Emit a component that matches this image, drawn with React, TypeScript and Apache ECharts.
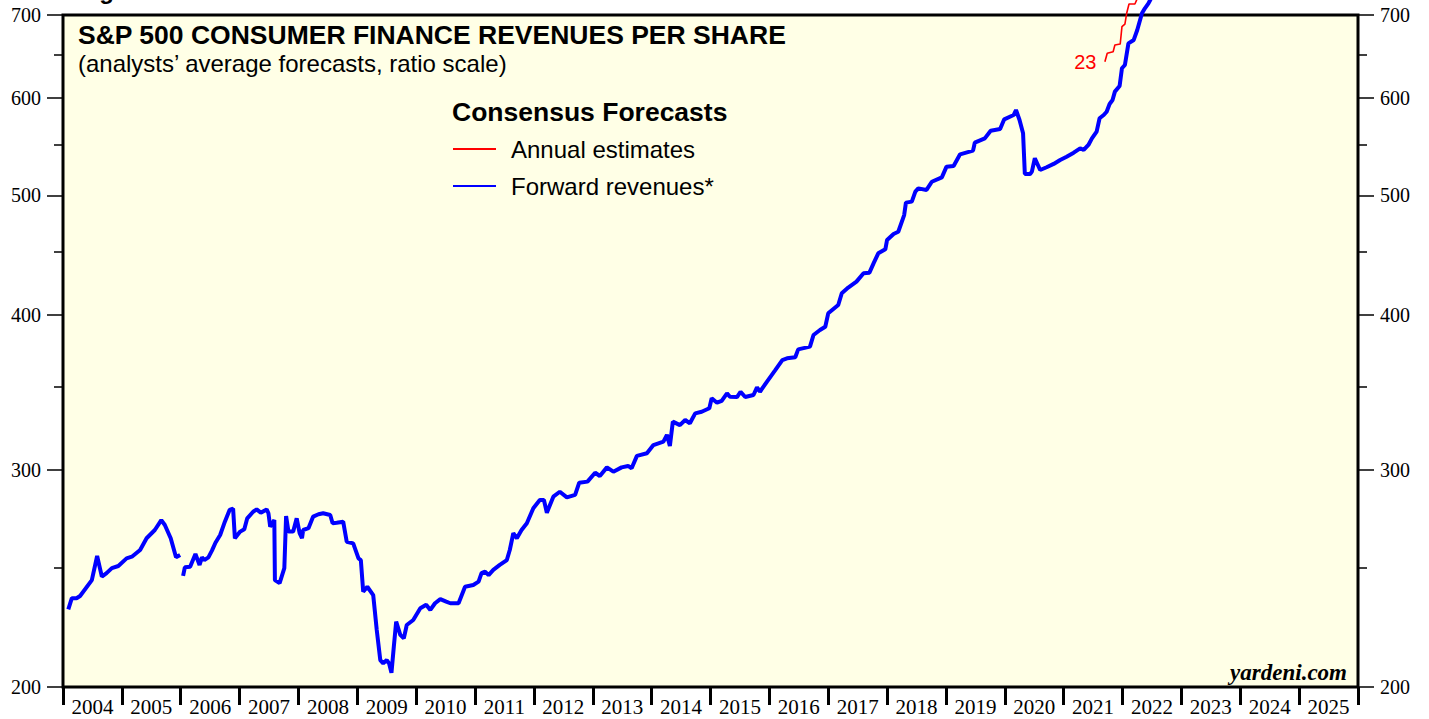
import React, { useEffect, useRef } from "react";
import * as echarts from "echarts";

// ---- data ----
const yearLabels = [2004, 2005, 2006, 2007, 2008, 2009, 2010, 2011, 2012, 2013, 2014, 2015, 2016, 2017, 2018, 2019, 2020, 2021, 2022, 2023, 2024, 2025];
const yMajorTicks = [200, 300, 400, 500, 600, 700];
const yMinorTicks = [250, 350, 450, 550, 650];

const blueDates = [
  2004.09, 2004.15, 2004.23, 2004.29, 2004.49, 2004.58, 2004.66, 2004.74, 2004.83, 2004.94,
  2005.08, 2005.17, 2005.31, 2005.42, 2005.56, 2005.67, 2005.73, 2005.83, 2005.92, 2005.99,
  2006.02,
  2006.04, 2006.07, 2006.16, 2006.25, 2006.32, 2006.36, 2006.40, 2006.47, 2006.53, 2006.59,
  2006.67, 2006.75, 2006.83, 2006.89, 2006.92, 2007.01, 2007.08, 2007.13, 2007.23, 2007.29,
  2007.36, 2007.46, 2007.49, 2007.52, 2007.59, 2007.60, 2007.68, 2007.76, 2007.79, 2007.83,
  2007.91, 2007.97, 2008.02, 2008.06, 2008.08, 2008.17, 2008.25, 2008.34, 2008.42, 2008.54,
  2008.58, 2008.65, 2008.76, 2008.82, 2008.93, 2009.02, 2009.06, 2009.10, 2009.17, 2009.27,
  2009.33, 2009.39, 2009.44, 2009.50, 2009.54, 2009.58, 2009.62, 2009.66, 2009.73, 2009.79,
  2009.84, 2009.95, 2010.07, 2010.17, 2010.24, 2010.32, 2010.41, 2010.51, 2010.58, 2010.72,
  2010.83, 2010.97, 2011.06, 2011.11, 2011.17, 2011.23, 2011.31, 2011.42, 2011.54, 2011.59,
  2011.65, 2011.71, 2011.79, 2011.88, 2011.99, 2012.10, 2012.17, 2012.22, 2012.33, 2012.44,
  2012.56, 2012.70, 2012.77, 2012.91, 2013.04, 2013.12, 2013.24, 2013.35, 2013.49, 2013.60,
  2013.66, 2013.75, 2013.92, 2014.03, 2014.20, 2014.26, 2014.31, 2014.36, 2014.48, 2014.57,
  2014.65, 2014.74, 2014.85, 2014.98, 2015.02, 2015.11, 2015.19, 2015.28, 2015.33, 2015.45,
  2015.51, 2015.59, 2015.73, 2015.79, 2015.84, 2015.96, 2016.10, 2016.22, 2016.30, 2016.44,
  2016.49, 2016.69, 2016.75, 2016.86, 2016.95, 2017.00, 2017.17, 2017.23, 2017.34, 2017.48,
  2017.60, 2017.70, 2017.77, 2017.85, 2017.97, 2018.00, 2018.11, 2018.19, 2018.29, 2018.32,
  2018.42, 2018.48, 2018.53, 2018.67, 2018.76, 2018.93, 2019.01, 2019.13, 2019.24, 2019.46,
  2019.49, 2019.66, 2019.76, 2019.92, 2019.99, 2020.15, 2020.19, 2020.25, 2020.31, 2020.34,
  2020.43, 2020.46, 2020.51, 2020.60, 2020.71, 2020.83, 2020.94, 2021.05, 2021.17, 2021.28,
  2021.34, 2021.42, 2021.48, 2021.56, 2021.61, 2021.68, 2021.73, 2021.78, 2021.83, 2021.87,
  2021.95, 2021.99, 2022.04, 2022.10, 2022.19, 2022.25, 2022.33, 2022.38, 2022.44, 2022.47,
  2022.52,
];
const blueValues = [
  231.1, 236.0, 236.0, 237.0, 244.1, 255.3, 245.7, 247.3, 249.6, 250.6,
  254.2, 255.0, 258.2, 263.9, 268.0, 273.0, 270.5, 263.9, 254.7, 255.8,
  null,
  246.0, 250.0, 250.3, 256.3, 251.1, 254.7, 253.4, 254.7, 257.9, 261.7,
  265.5, 272.2, 278.2, 278.9, 263.9, 267.2, 268.4, 273.9, 277.3, 278.5,
  276.8, 278.5, 276.5, 269.6, 273.0, 244.1, 242.7, 249.6, 275.1, 267.2,
  267.2, 273.9, 266.4, 263.9, 268.0, 268.9, 274.8, 276.0, 276.5, 275.6,
  271.4, 271.7, 272.2, 262.2, 261.4, 254.2, 253.4, 238.9, 241.1, 237.4,
  222.4, 210.3, 209.0, 210.3, 209.0, 205.4, 215.6, 225.9, 220.4, 219.0,
  224.5, 226.6, 231.6, 233.1, 230.9, 233.8, 235.6, 234.5, 233.8, 233.8,
  241.1, 241.9, 243.4, 247.3, 248.0, 246.4, 248.8, 251.1, 253.4, 258.2,
  266.4, 263.9, 268.0, 271.4, 279.1, 283.4, 283.4, 276.8, 285.2, 287.8,
  284.8, 286.1, 292.7, 293.3, 298.2, 296.4, 301.2, 298.8, 301.2, 302.0,
  300.7, 307.7, 309.2, 314.0, 316.0, 320.0, 313.4, 328.0, 325.9, 329.0,
  327.0, 333.1, 334.1, 336.3, 342.6, 339.8, 341.0, 345.8, 343.6, 343.4,
  346.8, 343.4, 344.7, 349.6, 346.8, 353.4, 361.1, 367.9, 369.1, 369.8,
  375.3, 377.2, 385.5, 389.1, 391.5, 401.4, 407.7, 416.7, 421.1, 425.8,
  432.5, 433.0, 440.6, 448.9, 452.3, 460.2, 465.4, 467.3, 482.1, 493.4,
  494.3, 503.6, 506.7, 505.2, 513.0, 517.2, 527.6, 528.3, 539.9, 543.6,
  551.7, 556.2, 564.2, 566.0, 576.3, 580.9, 586.4, 575.6, 561.5, 520.4,
  520.4, 522.7, 535.9, 524.3, 527.0, 530.3, 534.2, 537.5, 541.5, 546.0,
  544.3, 549.4, 556.2, 563.2, 577.4, 580.9, 584.5, 593.0, 597.4, 606.8,
  613.2, 633.8, 637.7, 664.0, 668.2, 680.7, 702.2, 708.8, 715.4, 719.9,
  726.6,
];

const redDates = [2021.70, 2021.74, 2021.84, 2021.87, 2021.96, 2021.99, 2022.04, 2022.07, 2022.11, 2022.21, 2022.24, 2022.27];
const redValues = [641.6, 651.8, 653.7, 661.9, 663.1, 684.9, 688.3, 702.2, 714.5, 714.5, 719.9, 726.6];
const redLabel = "23";

const lg = (v: number) => Math.log10(v);

const SANS = 'Arial, "Liberation Sans", Helvetica, sans-serif';
const SERIF = '"Times New Roman", "Liberation Serif", Times, serif';

export default function App() {
  const ref = useRef<HTMLDivElement>(null);

  useEffect(() => {
    if (!ref.current) return;
    const chart = echarts.init(ref.current, null, { renderer: "svg" });

    const blueData = blueDates.map((d, i) => [d, blueValues[i] == null ? "-" : lg(blueValues[i] as number)]);
    const redData = redDates.map((d, i) => [d, lg(redValues[i])]);

    const yMin = lg(yMajorTicks[0]);
    const yMax = lg(yMajorTicks[yMajorTicks.length - 1]);
    const majorVals = yMajorTicks.map(lg);
    const minorVals = yMinorTicks.map(lg);
    const fmtY = (v: number) => String(Math.round(Math.pow(10, v)));

    const yAxisBase = (position: "left" | "right", major: boolean) => ({
      type: "value",
      position,
      min: yMin,
      max: yMax,
      axisLine: { show: false },
      splitLine: { show: false },
      axisTick: {
        show: true,
        inside: false,
        length: major ? 16 : 9,
        customValues: major ? majorVals : minorVals,
        lineStyle: { color: "#000", width: 1.5 },
      },
      axisLabel: major
        ? {
            show: true,
            customValues: majorVals,
            formatter: fmtY,
            margin: 22,
            color: "#000",
            fontFamily: SERIF,
            fontSize: 20,
          }
        : { show: false },
    });

    const option: any = {
      animation: false,
      backgroundColor: "#ffffff",
      grid: {
        left: 63,
        right: 71,
        top: 15,
        bottom: 32,
        show: true,
        backgroundColor: "#FFFFE6",
        borderColor: "#000",
        borderWidth: 3,
      },
      xAxis: {
        type: "value",
        min: 2004,
        max: 2026,
        axisLine: { show: false },
        splitLine: { show: false },
        axisTick: {
          show: true,
          inside: false,
          length: 18,
          customValues: [...yearLabels, yearLabels[yearLabels.length - 1] + 1],
          lineStyle: { color: "#000", width: 3 },
        },
        axisLabel: {
          show: true,
          customValues: yearLabels.map((y) => y + 0.5),
          formatter: (v: number) => String(Math.floor(v)),
          margin: 9,
          color: "#000",
          fontFamily: SERIF,
          fontSize: 21,
        },
      },
      yAxis: [
        yAxisBase("left", true),
        yAxisBase("left", false),
        yAxisBase("right", true),
        yAxisBase("right", false),
      ],
      legend: {
        data: ["Annual estimates", "Forward revenues*"],
        orient: "vertical",
        left: 452,
        top: 137,
        padding: 0,
        itemWidth: 43,
        itemHeight: 14,
        itemGap: 13,
        selectedMode: false,
        itemStyle: { opacity: 0 },
        textStyle: {
          fontFamily: SANS,
          fontSize: 24,
          color: "#000",
          padding: [0, 0, 0, 10],
        },
      },
      graphic: [
        {
          type: "text",
          x: 78,
          y: -10,
          style: { text: "Figure", fontFamily: SANS, fontWeight: "bold", fontSize: 24, fill: "#000", verticalAlign: "middle" },
        },
        {
          type: "text",
          x: 78,
          y: 35,
          style: {
            text: "S&P 500 CONSUMER FINANCE REVENUES PER SHARE",
            fontFamily: SANS,
            fontWeight: "bold",
            fontSize: 26.5,
            fill: "#000",
            verticalAlign: "middle",
          },
        },
        {
          type: "text",
          x: 78,
          y: 63,
          style: {
            text: "(analysts\u2019 average forecasts, ratio scale)",
            fontFamily: SANS,
            fontSize: 24,
            fill: "#000",
            verticalAlign: "middle",
          },
        },
        {
          type: "text",
          x: 452,
          y: 112,
          style: {
            text: "Consensus Forecasts",
            fontFamily: SANS,
            fontWeight: "bold",
            fontSize: 26.5,
            fill: "#000",
            verticalAlign: "middle",
          },
        },
        {
          type: "text",
          x: 1347,
          y: 672,
          style: {
            text: "yardeni.com",
            fontFamily: SERIF,
            fontWeight: "bold",
            fontStyle: "italic",
            fontSize: 23,
            fill: "#000",
            align: "right",
            verticalAlign: "middle",
          },
        },
      ],
      series: [
        {
          name: "Annual estimates",
          type: "line",
          data: redData,
          xAxisIndex: 0,
          yAxisIndex: 0,
          showSymbol: false,
          symbol: "none",
          clip: false,
          z: 5,
          lineStyle: { color: "#FF0000", width: 1.6 },
          itemStyle: { color: "#FF0000" },
          markPoint: {
            symbol: "circle",
            symbolSize: 1,
            itemStyle: { color: "rgba(0,0,0,0)" },
            label: {
              show: true,
              position: "left",
              distance: 8,
              formatter: redLabel,
              color: "#FF0000",
              fontFamily: SANS,
              fontSize: 20,
            },
            data: [{ coord: redData[0], value: redLabel }],
          },
        },
        {
          name: "Forward revenues*",
          type: "line",
          data: blueData,
          xAxisIndex: 0,
          yAxisIndex: 0,
          showSymbol: false,
          symbol: "none",
          clip: false,
          connectNulls: false,
          z: 6,
          lineStyle: { color: "#0000FF", width: 4 },
          itemStyle: { color: "#0000FF" },
        },
      ],
    };

    chart.setOption(option);
    return () => chart.dispose();
  }, []);

  return (
    <div
      ref={ref}
      style={{ position: "absolute", left: 0, top: 0, width: 1429, height: 719 }}
    />
  );
}
